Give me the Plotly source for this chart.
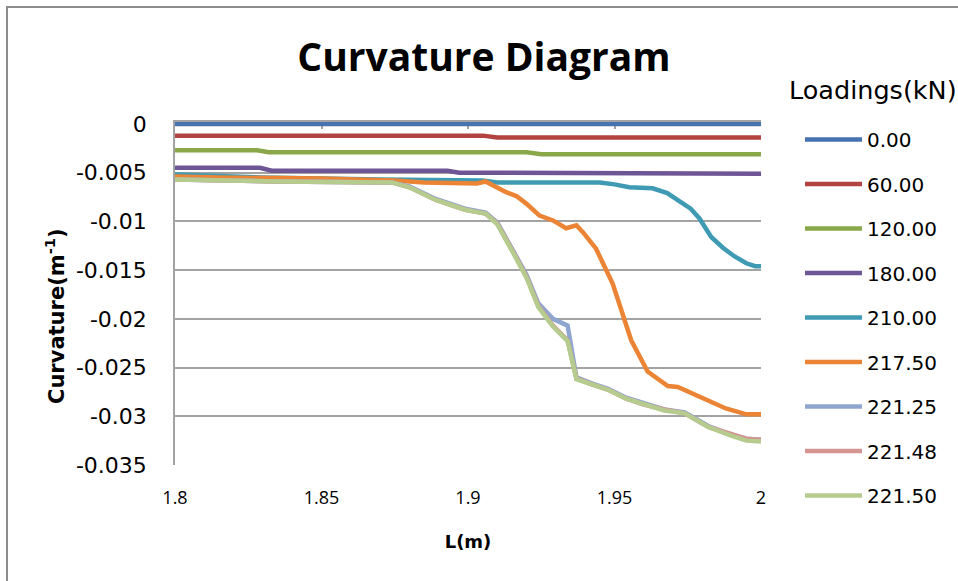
import plotly.graph_objects as go

# ---- data -------------------------------------------------------------
loadings = ["0.00", "60.00", "120.00", "180.00", "210.00", "217.50", "221.25", "221.48", "221.50"]
colors = ["#4672B0", "#B24340", "#8AA84A", "#6E5596", "#3F9AB4", "#EB8434", "#8FA6D0", "#D39492", "#B5CC8E"]

x_000 = [1.80, 2.00]
y_000 = [0.0, 0.0]

x_060 = [1.80, 1.905, 1.910, 2.00]
y_060 = [-0.0012, -0.0012, -0.0014, -0.0014]

x_120 = [1.80, 1.828, 1.832, 1.920, 1.925, 2.00]
y_120 = [-0.0027, -0.0027, -0.0029, -0.0029, -0.0031, -0.0031]

x_180 = [1.80, 1.829, 1.833, 1.893, 1.897, 1.953, 1.957, 2.00]
y_180 = [-0.0045, -0.0045, -0.0048, -0.0048, -0.0050, -0.0050, -0.0051, -0.0051]

x_210 = [1.80, 1.81, 1.83, 1.87, 1.905, 1.91, 1.945, 1.950, 1.955, 1.963, 1.968,
         1.972, 1.976, 1.979, 1.983, 1.987, 1.991, 1.995, 1.998, 2.00]
y_210 = [-0.0052, -0.0053, -0.0055, -0.0057, -0.0058, -0.0060, -0.0060, -0.0062, -0.0065, -0.0066, -0.0071,
         -0.0079, -0.0087, -0.0097, -0.0116, -0.0127, -0.0136, -0.0143, -0.0146, -0.0146]

x_2175 = [1.80, 1.815, 1.85, 1.875, 1.885, 1.895, 1.903, 1.906, 1.913, 1.9165, 1.920, 1.9244,
          1.929, 1.9335, 1.937, 1.9392, 1.9437, 1.9494, 1.9535, 1.9557, 1.9613, 1.9682,
          1.9716, 1.9789, 1.988, 1.995, 2.00]
y_2175 = [-0.0054, -0.0055, -0.0056, -0.0058, -0.0060, -0.0061, -0.0061, -0.0059, -0.0070, -0.0074, -0.0082, -0.0094,
          -0.0099, -0.0107, -0.0104, -0.0111, -0.0128, -0.0164, -0.0200, -0.0222, -0.0254, -0.0269,
          -0.0270, -0.0280, -0.0292, -0.0298, -0.0298]

x_late = [1.80, 1.835, 1.874, 1.880, 1.889, 1.899, 1.906, 1.910, 1.915, 1.920, 1.924, 1.929,
          1.934, 1.937, 1.942, 1.948, 1.954, 1.960, 1.967, 1.974, 1.982, 1.990, 1.995, 2.00]
y_22125 = [-0.0057, -0.0059, -0.0060, -0.0064, -0.0077, -0.0087, -0.0091, -0.0101, -0.0128, -0.0155, -0.0184, -0.0200,
           -0.0207, -0.0260, -0.0266, -0.0272, -0.0281, -0.0287, -0.0293, -0.0296, -0.0310, -0.0319, -0.0323, -0.0324]
y_22148 = [-0.0057, -0.0059, -0.0060, -0.0065, -0.0078, -0.0088, -0.0092, -0.0102, -0.0129, -0.0157, -0.0187, -0.0207,
           -0.0222, -0.0261, -0.0267, -0.0273, -0.0282, -0.0288, -0.0293, -0.0297, -0.0311, -0.0319, -0.0323, -0.0324]
y_22150 = [-0.0057, -0.0059, -0.0060, -0.0065, -0.0078, -0.0088, -0.0092, -0.0103, -0.0130, -0.0158, -0.0188, -0.0208,
           -0.0223, -0.0262, -0.0267, -0.0273, -0.0282, -0.0288, -0.0294, -0.0297, -0.0311, -0.0320, -0.0325, -0.0326]

series_x = [x_000, x_060, x_120, x_180, x_210, x_2175, x_late, x_late, x_late]
series_y = [y_000, y_060, y_120, y_180, y_210, y_2175, y_22125, y_22148, y_22150]

x_ticks = [1.8, 1.85, 1.9, 1.95, 2.0]
x_ticktext = ["1.8", "1.85", "1.9", "1.95", "2"]
y_ticks = [0, -0.005, -0.01, -0.015, -0.02, -0.025, -0.03, -0.035]
y_ticktext = ["0", "-0.005", "-0.01", "-0.015", "-0.02", "-0.025", "-0.03", "-0.035"]

# ---- figure -----------------------------------------------------------
W, H = 958, 581
L, R, T, B = 175, 197, 122, 116
PW, PH = W - L - R, H - T - B
GRID = "#A3A3A3"

fig = go.Figure()
for i, (name, xs, ys) in enumerate(zip(loadings, series_x, series_y)):
    fig.add_trace(go.Scatter(
        x=xs, y=ys, mode="lines", name=name,
        line=dict(color=colors[i], width=4.5),
        legendgroup=name,
        xaxis="x2" if i == 0 else "x",
    ))

fig.update_layout(
    width=W, height=H,
    margin=dict(l=L, r=R, t=T, b=B, autoexpand=False),
    paper_bgcolor="white", plot_bgcolor="white",
    title=dict(text="<b>Curvature Diagram</b>", x=484 / W, xref="container", xanchor="center",
               y=1 - 57 / H, yref="container", yanchor="middle",
               font=dict(family="Open Sans", size=39, color="black")),
    xaxis=dict(range=[1.8, 2.0], tickvals=x_ticks, ticktext=x_ticktext,
               showgrid=False, zeroline=False, showline=False, ticks="",
               tickfont=dict(family="Open Sans", size=18, color="black"),
               ticklabelstandoff=20,
               title=dict(text="<b>L(m)</b>", standoff=27,
                          font=dict(family="DejaVu Sans", size=18, color="black"))),
    xaxis2=dict(range=[1.8, 2.0], tickvals=x_ticks, overlaying="x", side="top", anchor="y",
                showgrid=False, zeroline=False, showline=True, linecolor=GRID, linewidth=1.5,
                ticks="inside", ticklen=7, tickcolor=GRID, tickwidth=1.5,
                showticklabels=False, layer="below traces"),
    yaxis=dict(range=[-0.035, 0.0002], tickvals=y_ticks, ticktext=y_ticktext,
               showgrid=True, gridcolor=GRID, gridwidth=1.5, zeroline=False,
               showline=True, linecolor=GRID, linewidth=1.5, ticks="",
               tickfont=dict(family="DejaVu Sans", size=22, color="black"),
               ticklabelstandoff=22),
    legend=dict(xref="container", yref="container", x=800 / W, y=1 - 120 / H,
                xanchor="left", yanchor="top", itemwidth=57, tracegroupgap=15.5,
                maxheight=560,
                font=dict(family="DejaVu Sans", size=20, color="black"),
                bgcolor="rgba(0,0,0,0)"),
    showlegend=True,
)

# legend heading
fig.add_annotation(text="Loadings(kN)", xref="paper", yref="paper",
                   x=(787 - L) / PW, y=(H - B - 90) / PH, xanchor="left", yanchor="middle",
                   showarrow=False, font=dict(family="DejaVu Sans", size=25.5, color="black"))

# vertical axis title
fig.add_annotation(text="<b>Curvature(m<sup>-1</sup>)</b>", textangle=-90,
                   xref="paper", yref="paper", x=(55 - L) / PW, y=(H - B - 316) / PH,
                   xanchor="center", yanchor="middle", showarrow=False,
                   font=dict(family="DejaVu Sans", size=21, color="black"))

# outer chart frame
fig.add_shape(type="rect", xref="paper", yref="paper",
              x0=(7 - L) / PW, x1=(W + 20 - L) / PW,
              y0=-(B + 20) / PH, y1=1 + (T - 7) / PH,
              line=dict(color="#8C8C8C", width=2), fillcolor="rgba(0,0,0,0)", layer="below")

fig.write_html("out.html")
